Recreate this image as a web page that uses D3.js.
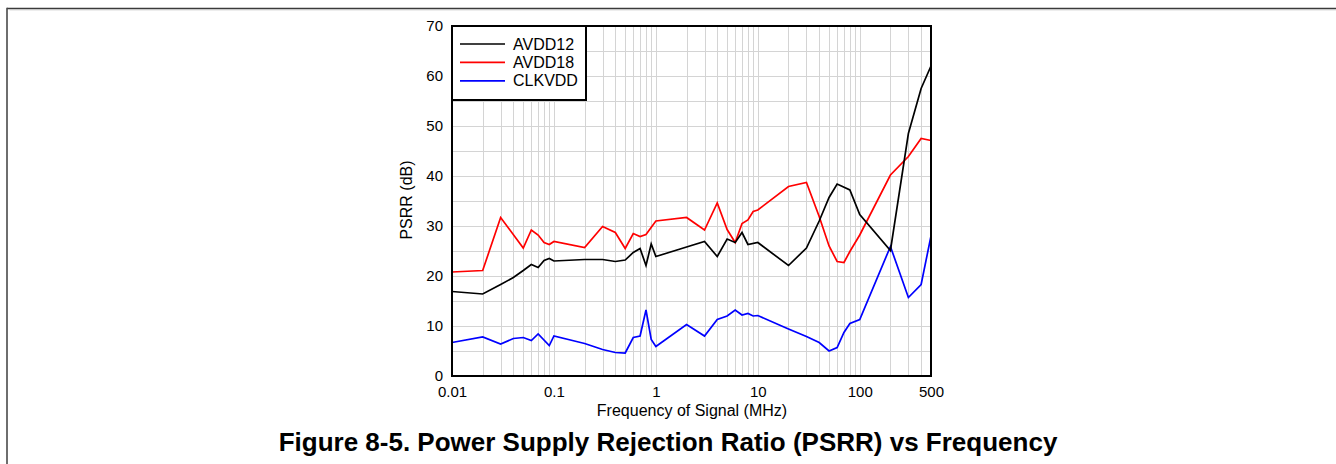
<!DOCTYPE html>
<html>
<head>
<meta charset="utf-8">
<script src="https://cdn.jsdelivr.net/npm/d3@7"></script>
<style>
  html, body { margin: 0; padding: 0; background: #fff; }
  svg { display: block; font-family: "Liberation Sans", Arial, sans-serif; }
</style>
</head>
<body>
<svg id="chart" width="1336" height="464"></svg>
<script>
// Frequency points (MHz) and PSRR (dB) per supply rail
const freqA12 = [0.01, 0.02, 0.03, 0.04, 0.05, 0.06, 0.07, 0.08, 0.09, 0.1, 0.2, 0.3, 0.4, 0.5, 0.6, 0.7, 0.8, 0.9, 1, 2, 3, 4, 5, 6, 7, 8, 10, 20, 30, 40, 50, 60, 80, 100, 200, 300, 400, 500];
const avdd12  = [16.9, 16.4, 18.3, 19.7, 21.1, 22.3, 21.7, 23.1, 23.5, 23.0, 23.3, 23.3, 22.9, 23.2, 24.7, 25.5, 22.1, 26.4, 23.9, 25.8, 26.9, 23.9, 27.4, 26.7, 28.7, 26.3, 26.7, 22.1, 25.6, 31.0, 35.7, 38.4, 37.2, 32.3, 25.1, 48.5, 57.5, 62.0];

const freqA18 = [0.01, 0.02, 0.03, 0.05, 0.06, 0.07, 0.08, 0.09, 0.1, 0.2, 0.3, 0.4, 0.5, 0.6, 0.7, 0.8, 1, 2, 3, 4, 5, 6, 7, 8, 9, 10, 20, 30, 40, 50, 60, 70, 80, 100, 200, 300, 400, 500];
const avdd18  = [20.8, 21.1, 31.7, 25.6, 29.2, 28.2, 26.7, 26.3, 26.9, 25.7, 29.9, 28.7, 25.5, 28.5, 27.9, 28.3, 31.0, 31.7, 29.2, 34.6, 29.3, 26.7, 30.5, 31.2, 32.9, 33.2, 37.9, 38.7, 31.9, 26.0, 22.9, 22.7, 24.9, 28.2, 40.2, 43.9, 47.5, 47.1];

const freqClk = [0.01, 0.02, 0.03, 0.04, 0.05, 0.06, 0.07, 0.09, 0.1, 0.2, 0.3, 0.4, 0.5, 0.6, 0.7, 0.8, 0.9, 1, 2, 3, 4, 5, 6, 7, 8, 9, 10, 20, 30, 40, 50, 60, 70, 80, 100, 200, 300, 400, 500];
const clkvdd  = [6.7, 7.8, 6.4, 7.5, 7.7, 7.1, 8.4, 6.1, 8.0, 6.5, 5.3, 4.7, 4.6, 7.7, 8.0, 13.2, 7.3, 5.9, 10.3, 8.0, 11.3, 12.0, 13.2, 12.2, 12.5, 12.0, 12.1, 9.4, 7.9, 6.7, 5.0, 5.7, 8.7, 10.5, 11.3, 25.9, 15.7, 18.3, 28.0];

const seriesNames  = ["AVDD12", "AVDD18", "CLKVDD"];
const seriesColors = ["#000000", "#ff0000", "#0000ff"];

const xTickValues = [0.01, 0.1, 1, 10, 100, 500];
const xTickLabels = ["0.01", "0.1", "1", "10", "100", "500"];
const yTickValues = [0, 10, 20, 30, 40, 50, 60, 70];

const xTitle = "Frequency of Signal (MHz)";
const yTitle = "PSRR (dB)";
const figTitle = "Figure 8-5. Power Supply Rejection Ratio (PSRR) vs Frequency";

const svg = d3.select("#chart");
const W = 1336, H = 464;
const plot = { left: 452, top: 26, right: 931, bottom: 376 };
const FONT = "Liberation Sans, Arial, sans-serif";

// Outer figure frame (top and left edges)
svg.append("line").attr("x1", 7).attr("x2", W).attr("y1", 8.5).attr("y2", 8.5)
  .attr("stroke", "#3a3a3a").attr("stroke-width", 1.6);
svg.append("line").attr("x1", 9.5).attr("x2", W).attr("y1", 9.8).attr("y2", 9.8)
  .attr("stroke", "#c4c4c4").attr("stroke-width", 1);
svg.append("line").attr("x1", 7).attr("x2", 7).attr("y1", 7.7).attr("y2", H)
  .attr("stroke", "#4a4a4a").attr("stroke-width", 1.6);

const x = d3.scaleLog().domain([0.01, 500]).range([plot.left, plot.right]);
const y = d3.scaleLinear().domain([0, 70]).range([plot.bottom, plot.top]);

// Grid: minor log lines for every 1..9 multiple, and every 5 dB horizontally
const xGrid = [];
for (let e = -2; e <= 2; e++) {
  for (let m = 1; m <= 9; m++) {
    const v = m * Math.pow(10, e);
    if (v > 0.01 && v < 500) xGrid.push(v);
  }
}
const yGrid = d3.range(5, 70, 5);
const grid = svg.append("g").attr("stroke", "#d4d4d4").attr("stroke-width", 1);
grid.selectAll("line.gx").data(xGrid).join("line")
  .attr("x1", d => Math.round(x(d)) + 0.5).attr("x2", d => Math.round(x(d)) + 0.5)
  .attr("y1", plot.top).attr("y2", plot.bottom);
grid.selectAll("line.gy").data(yGrid).join("line")
  .attr("x1", plot.left).attr("x2", plot.right)
  .attr("y1", d => Math.round(y(d)) + 0.5).attr("y2", d => Math.round(y(d)) + 0.5);

// Data lines
const series = [
  { name: seriesNames[0], color: seriesColors[0], f: freqA12, v: avdd12 },
  { name: seriesNames[1], color: seriesColors[1], f: freqA18, v: avdd18 },
  { name: seriesNames[2], color: seriesColors[2], f: freqClk, v: clkvdd }
];
const line = d3.line().x(d => x(d[0])).y(d => y(d[1]));
const lines = svg.append("g");
// Draw in reverse so AVDD12 sits on top
series.slice().reverse().forEach(s => {
  lines.append("path")
    .datum(d3.zip(s.f, s.v))
    .attr("fill", "none")
    .attr("stroke", s.color)
    .attr("stroke-width", 1.7)
    .attr("stroke-linejoin", "miter")
    .attr("d", line);
});

// Axes (labels only; frame drawn separately)
const xAxis = d3.axisBottom(x).tickValues(xTickValues)
  .tickFormat((d, i) => xTickLabels[i]).tickSize(0).tickPadding(10);
const gx = svg.append("g").attr("transform", `translate(0,${plot.bottom})`).call(xAxis);
gx.select(".domain").remove();
gx.selectAll("text").attr("font-size", 15).attr("fill", "#000").attr("font-family", FONT);

const yAxis = d3.axisLeft(y).tickValues(yTickValues).tickSize(0).tickPadding(9);
const gy = svg.append("g").attr("transform", `translate(${plot.left},0)`).call(yAxis);
gy.select(".domain").remove();
gy.selectAll("text").attr("font-size", 15).attr("fill", "#000").attr("font-family", FONT);

// Plot frame
svg.append("rect")
  .attr("x", plot.left).attr("y", plot.top)
  .attr("width", plot.right - plot.left).attr("height", plot.bottom - plot.top)
  .attr("fill", "none").attr("stroke", "#000").attr("stroke-width", 2);

// Legend
const leg = svg.append("g");
leg.append("rect").attr("x", plot.left).attr("y", plot.top)
  .attr("width", 134).attr("height", 74)
  .attr("fill", "#fff").attr("stroke", "#000").attr("stroke-width", 2);
series.forEach((s, i) => {
  const ly = 44 + i * 18.4;
  leg.append("line").attr("x1", 460).attr("x2", 505).attr("y1", ly).attr("y2", ly)
    .attr("stroke", s.color).attr("stroke-width", 1.7);
  leg.append("text").attr("x", 513).attr("y", ly + 5.5).attr("font-size", 16)
    .attr("fill", "#000").text(s.name);
});

// Titles
svg.append("text").attr("x", 692).attr("y", 416).attr("text-anchor", "middle")
  .attr("font-size", 16).attr("fill", "#000").text(xTitle);
svg.append("text")
  .attr("transform", `translate(412,200) rotate(-90)`)
  .attr("text-anchor", "middle").attr("font-size", 16).attr("fill", "#000").text(yTitle);
svg.append("text").attr("x", 668).attr("y", 451).attr("text-anchor", "middle")
  .attr("font-size", 26).attr("font-weight", "bold").attr("fill", "#000").text(figTitle);
</script>
</body>
</html>
